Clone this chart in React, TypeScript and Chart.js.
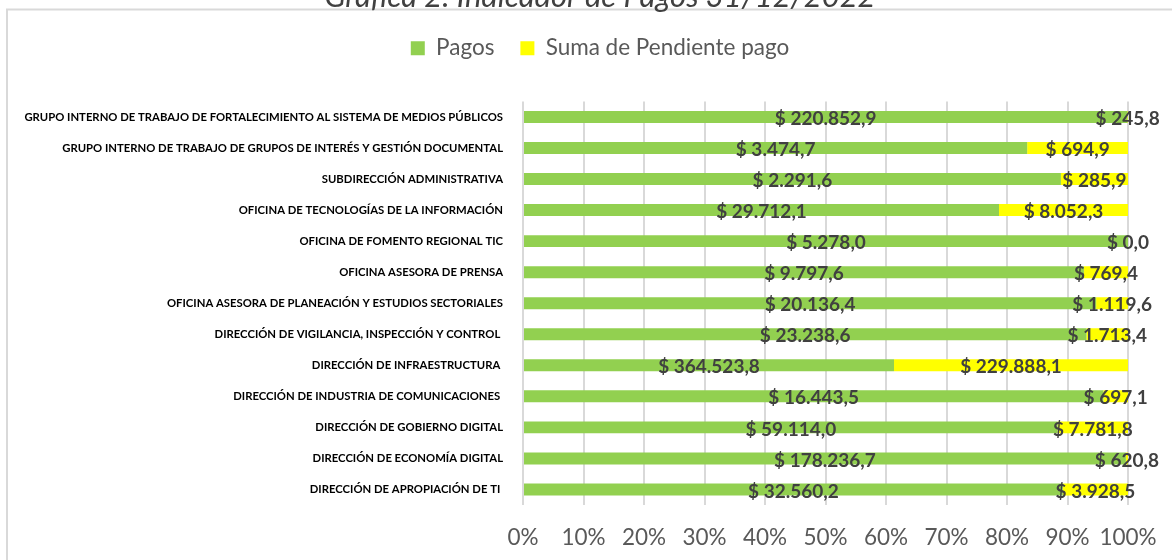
import React, { useEffect, useRef } from 'react';
import { Chart, registerables } from 'chart.js';

Chart.register(...registerables);

const titleText = 'Gráfica 2. Indicador de Pagos 31/12/2022';
const seriesNames = ['Pagos', 'Suma de Pendiente pago'];

const categories = [
  'GRUPO INTERNO DE TRABAJO DE FORTALECIMIENTO AL SISTEMA DE MEDIOS PÚBLICOS',
  'GRUPO INTERNO DE TRABAJO DE GRUPOS DE INTERÉS Y GESTIÓN DOCUMENTAL',
  'SUBDIRECCIÓN ADMINISTRATIVA',
  'OFICINA DE TECNOLOGÍAS DE LA INFORMACIÓN',
  'OFICINA DE FOMENTO REGIONAL TIC',
  'OFICINA ASESORA DE PRENSA',
  'OFICINA ASESORA DE PLANEACIÓN Y ESTUDIOS SECTORIALES',
  'DIRECCIÓN DE VIGILANCIA, INSPECCIÓN Y CONTROL ',
  'DIRECCIÓN DE INFRAESTRUCTURA ',
  'DIRECCIÓN DE INDUSTRIA DE COMUNICACIONES ',
  'DIRECCIÓN DE GOBIERNO DIGITAL',
  'DIRECCIÓN DE ECONOMÍA DIGITAL',
  'DIRECCIÓN DE APROPIACIÓN DE TI ',
];

const pagos = [
  220852.9, 3474.7, 2291.6, 29712.1, 5278.0, 9797.6, 20136.4, 23238.6, 364523.8, 16443.5, 59114.0,
  178236.7, 32560.2,
];

const pendiente = [
  245.8, 694.9, 285.9, 8052.3, 0.0, 769.4, 1119.6, 1713.4, 229888.1, 697.1, 7781.8, 620.8, 3928.5,
];

const xTickValues = [0, 10, 20, 30, 40, 50, 60, 70, 80, 90, 100];

const FONT = 'Lato';

const pagosPct = pagos.map((v, i) => (v / (v + pendiente[i])) * 100);
const pendientePct = pendiente.map((v, i) => (v / (pagos[i] + v)) * 100);
const rawValues = [pagos, pendiente];

function fmt(v: number): string {
  const [ip, dp] = v.toFixed(1).split('.');
  return '$ ' + ip.replace(/\B(?=(\d{3})+(?!\d))/g, '.') + ',' + dp;
}

const borderPlugin = {
  id: 'outerBorder',
  beforeDraw(chart: any) {
    const ctx = chart.ctx;
    ctx.save();
    ctx.fillStyle = '#ffffff';
    ctx.fillRect(0, 0, chart.width, chart.height);
    ctx.strokeStyle = '#D9D9D9';
    ctx.lineWidth = 2;
    ctx.strokeRect(7, 39.5, chart.width - 14, chart.height + 40);
    ctx.restore();
  },
};

const labelPlugin = {
  id: 'segLabels',
  afterDatasetsDraw(chart: any) {
    const ctx = chart.ctx;
    ctx.save();
    ctx.font = `bold 19px ${FONT}`;
    ctx.fillStyle = '#404040';
    ctx.textAlign = 'center';
    ctx.textBaseline = 'middle';
    chart.data.datasets.forEach((_: any, di: number) => {
      const meta = chart.getDatasetMeta(di);
      meta.data.forEach((el: any, i: number) => {
        const p = el.getProps(['x', 'base', 'y'], true);
        const cx = (p.x + p.base) / 2;
        ctx.fillText(fmt(rawValues[di][i]), cx, p.y + 2);
      });
    });
    ctx.restore();
  },
};

export default function App() {
  const canvasRef = useRef<HTMLCanvasElement | null>(null);

  useEffect(() => {
    if (!canvasRef.current) return;
    const chart = new Chart(canvasRef.current, {
      type: 'bar',
      data: {
        labels: categories,
        datasets: [
          {
            label: seriesNames[0],
            data: pagosPct,
            backgroundColor: '#92D050',
            borderWidth: 0,
            barPercentage: 0.385,
            categoryPercentage: 1,
            xAxisID: 'x',
            yAxisID: 'y',
          },
          {
            label: seriesNames[1],
            data: pendientePct,
            backgroundColor: '#FFFF00',
            borderWidth: 0,
            barPercentage: 0.385,
            categoryPercentage: 1,
            xAxisID: 'x',
            yAxisID: 'y',
          },
        ],
      },
      options: {
        indexAxis: 'y',
        responsive: false,
        animation: false,
        layout: { padding: 0 },
        scales: {
          x: {
            type: 'linear',
            position: 'bottom',
            stacked: true,
            min: 0,
            max: 100,
            afterBuildTicks: (s: any) => {
              s.ticks = xTickValues.map((v) => ({ value: v }));
            },
            grid: { color: '#D9D9D9', lineWidth: 2, drawTicks: false },
            border: { display: false },
            ticks: {
              padding: 19,
              color: '#595959',
              maxRotation: 0,
              minRotation: 0,
              autoSkip: false,
              font: { family: FONT, size: 22.5 },
              callback: (v: any) => v + '%',
            },
            afterFit: (s: any) => {
              s.height = 55;
            },
          },
          xTop: {
            type: 'linear',
            position: 'top',
            display: true,
            grid: { display: false, drawTicks: false },
            border: { display: false },
            ticks: { display: false },
            afterFit: (s: any) => {
              s.height = 32;
            },
          },
          y: {
            type: 'category',
            stacked: true,
            grid: { display: false, drawTicks: false },
            border: { display: false },
            ticks: {
              padding: 20,
              autoSkip: false,
              color: '#000000',
              font: { family: FONT, size: 11.3, weight: 'bold' },
            },
            afterFit: (s: any) => {
              s.width = 523;
            },
          },
          yRight: {
            type: 'linear',
            position: 'right',
            display: true,
            grid: { display: false, drawTicks: false },
            border: { display: false },
            ticks: { display: false },
            afterFit: (s: any) => {
              s.width = 72;
            },
          },
        },
        plugins: {
          title: {
            display: true,
            text: titleText,
            color: '#404040',
            font: { family: FONT, size: 31, style: 'italic', weight: 'normal', lineHeight: 0.9 },
            padding: { top: 13, bottom: 0 },
          },
          legend: {
            display: true,
            position: 'top',
            labels: {
              boxWidth: 14,
              boxHeight: 14,
              padding: 26,
              color: '#595959',
              font: { family: FONT, size: 22.5 },
            },
          },
          tooltip: { enabled: false },
        },
      },
      plugins: [borderPlugin, labelPlugin],
    } as any);
    return () => chart.destroy();
  }, []);

  return (
    <div
      style={{
        position: 'fixed',
        left: 0,
        top: 0,
        width: 1172,
        height: 560,
        overflow: 'hidden',
        background: '#ffffff',
      }}
    >
      <div style={{ position: 'absolute', left: 0, top: -30, width: 1200, height: 590 }}>
        <canvas ref={canvasRef} width={1200} height={590} style={{ display: 'block' }} />
      </div>
    </div>
  );
}
